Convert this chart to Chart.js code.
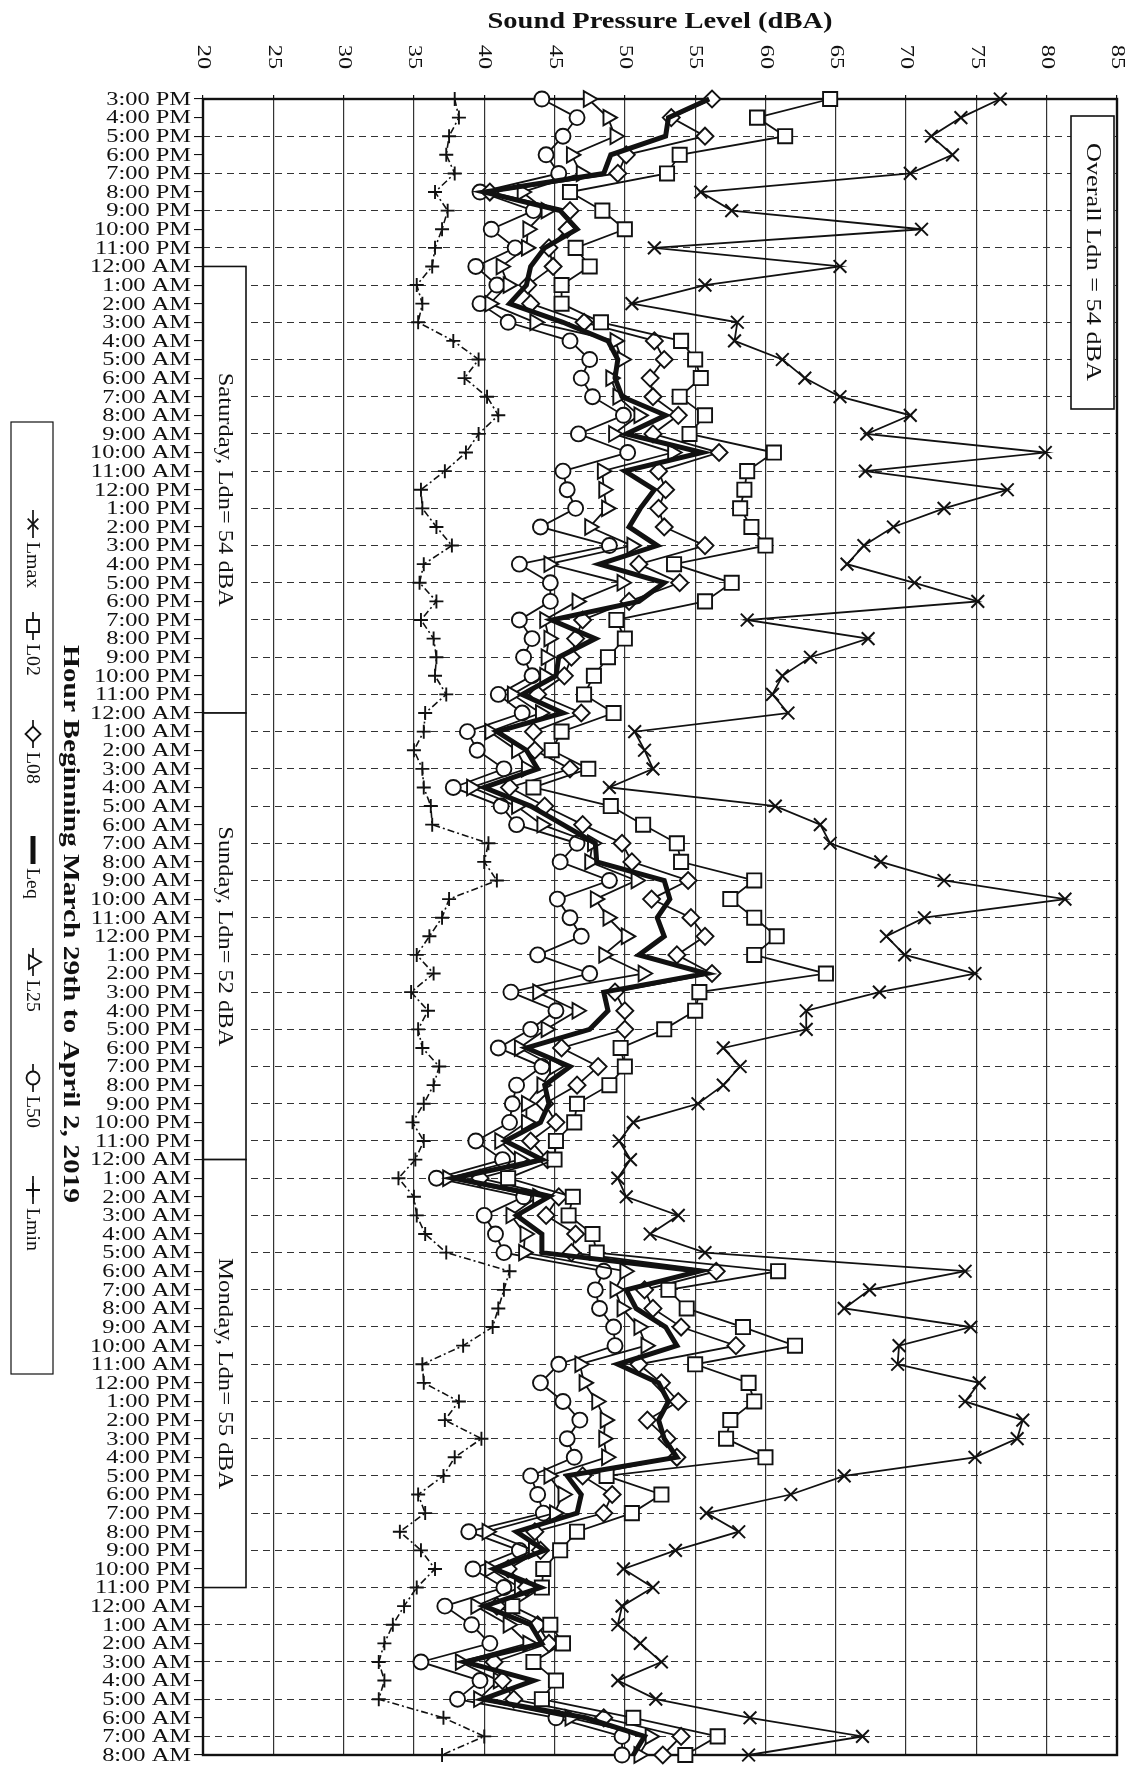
<!DOCTYPE html>
<html>
<head>
<meta charset="utf-8">
<script src="https://cdn.jsdelivr.net/npm/chart.js@4.4.1/dist/chart.umd.min.js"></script>
<style>
  html, body { margin: 0; padding: 0; background: #fff; }
  canvas { display: block; }
</style>
</head>
<body>
<canvas id="chartSPL" width="1138" height="1767"></canvas>
<script>
// hour labels (friday afternoon, three full days, tuesday morning)
const hoursFri = ['3:00 PM', '4:00 PM', '5:00 PM', '6:00 PM', '7:00 PM', '8:00 PM', '9:00 PM', '10:00 PM', '11:00 PM']
const hoursDay = ['12:00 AM', '1:00 AM', '2:00 AM', '3:00 AM', '4:00 AM', '5:00 AM', '6:00 AM', '7:00 AM', '8:00 AM', '9:00 AM', '10:00 AM', '11:00 AM',
  '12:00 PM', '1:00 PM', '2:00 PM', '3:00 PM', '4:00 PM', '5:00 PM', '6:00 PM', '7:00 PM', '8:00 PM', '9:00 PM', '10:00 PM', '11:00 PM']
const hoursTue = ['12:00 AM', '1:00 AM', '2:00 AM', '3:00 AM', '4:00 AM', '5:00 AM', '6:00 AM', '7:00 AM', '8:00 AM']
const hourLabels = [...hoursFri, ...hoursDay, ...hoursDay, ...hoursDay, ...hoursTue]

const dbTicks = [20, 25, 30, 35, 40, 45, 50, 55, 60, 65, 70, 75, 80, 85]

const lmax = [76.7, 73.9, 71.8, 73.3, 70.3, 55.4, 57.6, 71.1, 52.1,
  65.3, 55.7, 50.5, 58.0, 57.8, 61.2, 62.8, 65.3, 70.3, 67.2, 79.9, 67.1, 77.2, 72.7, 69.1, 67.0, 65.8, 70.6, 75.1, 58.7, 67.3, 63.2, 61.2, 60.5,
  61.6, 50.7, 51.4, 52.0, 48.9, 60.7, 63.9, 64.6, 68.2, 72.7, 81.3, 71.3, 68.6, 69.9, 74.9, 68.1, 62.9, 62.9, 57.0, 58.2, 57.0, 55.2, 50.6, 49.6,
  50.4, 49.5, 50.1, 53.8, 51.8, 55.7, 74.2, 67.4, 65.6, 74.6, 69.5, 69.4, 75.2, 74.2, 78.3, 77.9, 74.9, 65.6, 61.8, 55.8, 58.1, 53.6, 49.9, 52.0,
  49.8, 49.5, 51.1, 52.6, 49.5, 52.2, 58.9, 66.9, 58.8]
const l02 = [64.6, 59.4, 61.4, 53.9, 53.0, 46.1, 48.4, 50.0, 46.5,
  47.5, 45.5, 45.5, 48.3, 54.0, 55.0, 55.4, 53.9, 55.7, 54.6, 60.6, 58.7, 58.5, 58.2, 59.0, 60.0, 53.5, 57.6, 55.7, 49.4, 50.0, 48.8, 47.8, 47.1,
  49.2, 45.5, 44.8, 47.4, 43.5, 49.0, 51.3, 53.7, 54.0, 59.2, 57.5, 59.2, 60.8, 59.2, 64.3, 55.3, 55.0, 52.8, 49.7, 50.0, 48.9, 46.6, 46.4, 45.1,
  45.0, 41.7, 46.3, 46.0, 47.7, 48.0, 60.9, 53.1, 54.4, 58.4, 62.1, 55.0, 58.8, 59.2, 57.5, 57.2, 60.0, 48.7, 52.6, 50.5, 46.6, 45.4, 44.2, 44.1,
  42.0, 44.7, 45.6, 43.5, 45.1, 44.1, 50.6, 56.6, 54.3]
const l08 = [56.2, 53.3, 55.7, 50.1, 49.5, 40.4, 46.1, 45.9, 44.6,
  44.9, 43.1, 43.3, 47.1, 52.1, 52.8, 51.8, 52.0, 53.8, 52.0, 56.7, 52.4, 52.9, 52.4, 52.8, 55.7, 51.0, 53.9, 50.3, 47.0, 46.5, 46.2, 45.7, 43.8,
  46.9, 43.5, 43.6, 46.1, 41.8, 44.3, 47.0, 49.8, 50.5, 54.5, 51.9, 54.7, 55.7, 53.7, 56.2, 49.3, 50.0, 50.0, 45.5, 48.1, 46.6, 44.3, 45.1, 43.3,
  44.5, 39.7, 45.3, 44.4, 46.5, 46.2, 56.5, 51.4, 52.0, 54.0, 57.9, 51.0, 52.6, 53.8, 51.6, 53.0, 53.7, 47.0, 49.1, 48.5, 43.6, 44.0, 41.7, 43.0,
  40.9, 43.8, 44.6, 40.7, 41.3, 42.1, 48.5, 54.0, 52.7]
const leq = [56.0, 53.1, 52.9, 49.0, 48.5, 40.0, 45.4, 46.6, 44.3,
  43.3, 43.0, 41.8, 45.6, 48.8, 49.5, 49.3, 49.8, 52.9, 50.1, 55.5, 50.0, 52.1, 51.1, 50.3, 52.3, 48.2, 52.8, 51.0, 44.8, 47.9, 45.3, 45.1, 42.7,
  45.6, 40.9, 43.0, 43.8, 40.0, 43.3, 45.6, 47.9, 48.0, 52.8, 53.2, 52.3, 52.8, 51.0, 55.8, 48.5, 48.8, 47.5, 43.0, 46.1, 44.3, 44.6, 44.0, 41.5,
  44.1, 37.8, 44.6, 42.3, 44.1, 44.1, 55.3, 50.1, 50.8, 52.9, 53.7, 49.5, 52.4, 53.1, 52.4, 52.8, 53.7, 45.9, 46.9, 46.6, 42.3, 44.3, 40.7, 44.0,
  40.0, 43.3, 44.1, 38.6, 43.5, 39.9, 47.2, 51.4, 50.6]
const l25 = [47.4, 48.8, 49.3, 46.2, 46.9, 42.7, 44.4, 43.1, 43.0,
  41.2, 41.7, 40.4, 43.6, 49.3, 49.8, 49.0, 49.5, 51.0, 49.2, 53.4, 48.4, 48.5, 48.7, 47.5, 50.5, 44.6, 49.8, 46.6, 44.3, 44.6, 44.4, 44.3, 42.0,
  44.0, 40.4, 42.3, 43.0, 39.1, 42.3, 44.1, 47.7, 47.5, 50.8, 47.9, 48.8, 50.1, 48.5, 51.3, 43.8, 46.6, 44.4, 42.5, 45.0, 44.1, 43.0, 43.0, 41.1,
  42.5, 37.4, 43.8, 41.9, 42.9, 42.8, 50.0, 49.3, 49.8, 51.0, 51.5, 46.8, 47.1, 48.0, 48.6, 48.5, 48.7, 44.6, 45.6, 45.0, 40.2, 43.5, 40.4, 42.5,
  39.4, 41.7, 43.1, 38.3, 41.0, 39.6, 46.1, 51.8, 51.0]
const l50 = [44.1, 46.6, 45.6, 44.4, 45.3, 39.7, 43.5, 40.5, 42.2,
  39.4, 40.9, 39.7, 41.7, 46.1, 47.5, 46.9, 47.7, 49.9, 46.7, 50.2, 45.6, 45.9, 46.5, 44.0, 48.9, 42.5, 44.7, 44.7, 42.5, 43.4, 42.8, 43.4, 41.0,
  42.7, 38.8, 39.5, 41.4, 37.8, 41.2, 42.3, 46.6, 45.4, 48.9, 45.2, 46.1, 46.9, 43.8, 47.5, 41.9, 45.1, 43.3, 41.0, 44.1, 42.3, 42.0, 41.8, 39.4,
  41.3, 36.6, 42.8, 40.0, 40.8, 41.4, 48.5, 47.9, 48.2, 49.2, 49.3, 45.3, 44.0, 45.6, 46.8, 45.9, 46.4, 43.3, 43.8, 44.2, 38.9, 42.5, 39.2, 41.4,
  37.2, 39.1, 40.4, 35.5, 39.7, 38.1, 45.1, 49.8, 49.8]
const lmin = [37.9, 38.2, 37.5, 37.3, 37.9, 36.5, 37.4, 37.0, 36.5,
  36.3, 35.2, 35.6, 35.3, 37.8, 39.6, 38.6, 40.2, 41.0, 39.6, 38.7, 37.2, 35.5, 35.6, 36.6, 37.7, 35.7, 35.4, 36.6, 35.5, 36.4, 36.6, 36.5, 37.3,
  35.8, 35.7, 35.0, 35.6, 35.7, 36.2, 36.3, 40.3, 40.0, 40.9, 37.5, 37.0, 36.1, 35.2, 36.4, 34.8, 36.0, 35.3, 35.6, 36.8, 36.4, 35.7, 34.9, 35.7,
  35.1, 33.9, 35.0, 35.2, 35.8, 37.3, 41.8, 41.4, 41.0, 40.6, 38.5, 35.6, 35.7, 38.2, 37.2, 39.8, 37.9, 37.1, 35.3, 35.8, 34.0, 35.5, 36.5, 35.2,
  34.3, 33.5, 32.9, 32.5, 32.9, 32.5, 37.1, 40.0, 37.0]

// day annotations: label, first hour index, last hour index
const dayNames = ['Saturday, Ldn= 54 dBA', 'Sunday, Ldn= 52 dBA', 'Monday, Ldn= 55 dBA']
const dayStart = [9, 33, 57]
const dayEnd = [33, 57, 80]
const overallText = 'Overall Ldn = 54 dBA'

const ink = '#111'
const serif = "'Liberation Serif', 'Times New Roman', serif"

// draws text centred at (cx, cy), rotated, stretched along its direction to a given length
function fitText (ctx, text, cx, cy, angle, font, len) {
  ctx.save()
  ctx.font = font
  const w = ctx.measureText(text).width
  ctx.translate(cx, cy)
  ctx.rotate(angle)
  ctx.scale(len / w, 1)
  ctx.textAlign = 'center'
  ctx.textBaseline = 'middle'
  ctx.fillText(text, 0, 0)
  ctx.restore()
}

const legendItems = [
  { name: 'Lmax', style: 'crossRot', r: 7.5, at: 510 },
  { name: 'L02', style: 'rect', r: 8.5, at: 612 },
  { name: 'L08', style: 'rectRot', r: 7.5, at: 720 },
  { name: 'Leq', style: null, r: 0, at: 836 },
  { name: 'L25', style: 'triangle', r: 8, at: 948 },
  { name: 'L50', style: 'circle', r: 6.5, at: 1064 },
  { name: 'Lmin', style: 'cross', r: 7, at: 1176 }
]

const decorations = {
  id: 'decorations',
  beforeDatasetsDraw (chart) {
    const { ctx, chartArea: a, scales: { y } } = chart
    ctx.save()
    ctx.strokeStyle = ink
    ctx.fillStyle = '#fff'
    ctx.lineWidth = 1.6
    dayNames.forEach((name, i) => {
      const y1 = y.getPixelForValue(dayStart[i])
      const y2 = y.getPixelForValue(dayEnd[i])
      ctx.fillRect(a.left, y1, 43, y2 - y1)
      ctx.strokeRect(a.left, y1, 43, y2 - y1)
    })
    // overall Ldn box
    ctx.fillRect(a.right - 46, a.top + 17, 43, 293)
    ctx.strokeRect(a.right - 46, a.top + 17, 43, 293)
    // plot frame
    ctx.lineWidth = 2.4
    ctx.strokeRect(a.left, a.top, a.right - a.left, a.bottom - a.top)
    ctx.restore()
  },
  afterDraw (chart) {
    const { ctx, chartArea: a, scales: { x, y } } = chart
    ctx.save()
    ctx.fillStyle = ink

    // axis title
    fitText(ctx, 'Sound Pressure Level (dBA)', (a.left + a.right) / 2, 22, 0, 'bold 24px ' + serif, 345)

    // top tick labels, rotated clockwise
    ctx.font = '18px ' + serif
    dbTicks.forEach((v) => {
      ctx.save()
      ctx.translate(x.getPixelForValue(v), 57)
      ctx.rotate(Math.PI / 2)
      ctx.scale(1.35, 1)
      ctx.textAlign = 'center'
      ctx.textBaseline = 'middle'
      ctx.fillText(String(v), 0, 0)
      ctx.restore()
    })

    // hour labels
    ctx.font = '18.5px ' + serif
    hourLabels.forEach((lab, i) => {
      ctx.save()
      ctx.translate(a.left - 12, y.getPixelForValue(i) + 1)
      ctx.scale(1.32, 1)
      ctx.textAlign = 'right'
      ctx.textBaseline = 'middle'
      ctx.fillText(lab, 0, 0)
      ctx.restore()
    })

    // day box texts
    dayNames.forEach((name, i) => {
      const cy = (y.getPixelForValue(dayStart[i]) + y.getPixelForValue(dayEnd[i])) / 2
      fitText(ctx, name, a.left + 21.5, cy, Math.PI / 2, '20px ' + serif, [234, 220, 231][i])
    })
    fitText(ctx, overallText, a.right - 24.5, a.top + 163, Math.PI / 2, '20px ' + serif, 238)

    // category axis title
    fitText(ctx, 'Hour Beginning March 29th to April 2, 2019', 70, 924, Math.PI / 2, 'bold 24px ' + serif, 558)

    // legend (rotated clockwise)
    ctx.strokeStyle = ink
    ctx.lineWidth = 1.2
    ctx.strokeRect(11, 422, 42, 952)
    ctx.translate(33, 0)
    ctx.rotate(Math.PI / 2)
    ctx.font = '18px ' + serif
    ctx.textBaseline = 'middle'
    ctx.textAlign = 'left'
    legendItems.forEach((it) => {
      const u = it.at
      ctx.strokeStyle = ink
      ctx.lineWidth = it.style ? 1.7 : 5
      ctx.beginPath()
      ctx.moveTo(u, 0)
      ctx.lineTo(u + 28, 0)
      ctx.stroke()
      if (it.style) {
        ctx.fillStyle = '#fff'
        ctx.lineWidth = 1.8
        Chart.helpers.drawPoint(ctx, { pointStyle: it.style, radius: it.r, rotation: 0, borderWidth: 1.8 }, u + 14, 0)
      }
      ctx.fillStyle = ink
      ctx.save()
      ctx.translate(u + 32, 1)
      ctx.scale(1.1, 1)
      ctx.fillText(it.name, 0, 0)
      ctx.restore()
    })
    ctx.restore()
  }
}

const common = { borderColor: ink, pointBorderColor: ink, pointBackgroundColor: '#fff', borderWidth: 1.8, pointBorderWidth: 1.9, clip: false }

const ctx = document.getElementById('chartSPL').getContext('2d')
const chartSPL = new Chart(ctx, {
  type: 'line',
  data: {
    labels: hourLabels,
    datasets: [
      { ...common, label: 'Leq', data: leq, borderWidth: 5, pointRadius: 0, order: 0 },
      { ...common, label: 'Lmax', data: lmax, pointStyle: 'crossRot', pointRadius: 9, pointBorderWidth: 2, order: 1 },
      { ...common, label: 'L02', data: l02, pointStyle: 'rect', pointRadius: 10, order: 2 },
      { ...common, label: 'L08', data: l08, pointStyle: 'rectRot', pointRadius: 8.5, order: 3 },
      { ...common, label: 'L25', data: l25, pointStyle: 'triangle', pointRotation: 90, pointRadius: 9, order: 4 },
      { ...common, label: 'L50', data: l50, pointStyle: 'circle', pointRadius: 7.5, order: 5 },
      { ...common, label: 'Lmin', data: lmin, borderDash: [7, 3, 2, 3], borderWidth: 1.6, pointStyle: 'cross', pointRadius: 7, order: 6 }
    ]
  },
  options: {
    indexAxis: 'y',
    responsive: false,
    animation: false,
    events: [],
    layout: { padding: { left: 194, top: 95, right: 21, bottom: 12 } },
    plugins: {
      legend: { display: false },
      tooltip: { enabled: false }
    },
    scales: {
      x: {
        type: 'linear',
        position: 'top',
        min: 20,
        max: 85,
        ticks: { stepSize: 5, display: false },
        grid: { color: '#333', lineWidth: 1.2, tickLength: 4, tickColor: ink },
        border: { display: false }
      },
      y: {
        type: 'category',
        offset: false,
        ticks: { display: false, autoSkip: false },
        grid: {
          offset: false,
          color: (c) => (c.index % 2 === 0 ? '#333' : 'rgba(0,0,0,0)'),
          lineWidth: 1.1,
          tickLength: 9,
          tickColor: ink,
          tickBorderDash: []
        },
        border: { display: false, dash: [7, 5] }
      }
    }
  },
  plugins: [decorations]
})
</script>
</body>
</html>
